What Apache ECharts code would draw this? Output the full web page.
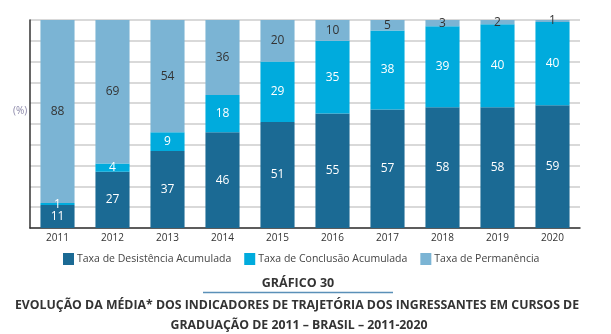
<!DOCTYPE html>
<html><head><meta charset="utf-8">
<script src="https://cdn.jsdelivr.net/npm/echarts@6/dist/echarts.min.js"></script>
<style>html,body{margin:0;padding:0;background:#fff}#c{width:611px;height:334px}</style>
</head><body><div id="c"></div>
<script>
const years = ['2011','2012','2013','2014','2015','2016','2017','2018','2019','2020'];
const desistencia = [11,27,37,46,51,55,57,58,58,59];
const conclusao = [1,4,9,18,29,35,38,39,40,40];
const permanencia = [88,69,54,36,20,10,5,3,2,1];
const seriesNames = ['Taxa de Desistência Acumulada','Taxa de Conclusão Acumulada','Taxa de Permanência'];
const colors = ['#1b6a94','#00abdd','#7bb4d4'];
const labelColors = ['#ffffff','#ffffff','#333333'];
const font = 'Open Sans';

const chart = echarts.init(document.getElementById('c'));
const datasets = [desistencia, conclusao, permanencia];
chart.setOption({
  animation:false,
  textStyle:{fontFamily:font},
  grid:{left:30,right:31,top:20,bottom:106},
  legend:{
    data:seriesNames, bottom:64, left:58, itemWidth:11, itemHeight:12, itemGap:13,
    icon:'rect', textStyle:{fontSize:10.5,color:'#444',fontFamily:font,padding:[0,0,0,-2]}
  },
  xAxis:{
    type:'category', data:years,
    axisLine:{lineStyle:{color:'#333',width:1.5}},
    axisTick:{show:false},
    axisLabel:{color:'#333',fontSize:10,margin:5,fontFamily:font}
  },
  yAxis:{
    type:'value', min:0, max:100, interval:10,
    axisLine:{show:true,lineStyle:{color:'#333',width:1.5}},
    axisTick:{show:false},
    axisLabel:{show:false},
    splitLine:{lineStyle:{color:'#cccccc',width:1.5}}
  },
  series: datasets.map((d,i)=>({
    name:seriesNames[i], type:'bar', stack:'t', data:d, barWidth:'62%',
    itemStyle:{color:colors[i]},
    label:{show:true,position:'inside',color:labelColors[i],fontSize:12,fontFamily:font}
  })),
  graphic:[
    {type:'text',left:13,top:106,style:{text:'(%)',fill:'#8a86a8',fontSize:10,fontFamily:font}},
    {type:'text',x:298,y:283,style:{text:'GRÁFICO 30',fill:'#333',fontSize:12.5,fontWeight:'bold',fontFamily:font,textAlign:'center',textVerticalAlign:'middle'}},
    {type:'line',shape:{x1:203,y1:292.5,x2:393,y2:292.5},style:{stroke:'#5a90b8',lineWidth:1.5}},
    {type:'text',x:297,y:305,style:{text:'EVOLUÇÃO DA MÉDIA* DOS INDICADORES DE TRAJETÓRIA DOS INGRESSANTES EM CURSOS DE',fill:'#333',fontSize:12.3,fontWeight:'bold',fontFamily:font,textAlign:'center',textVerticalAlign:'middle'}},
    {type:'text',x:299,y:325,style:{text:'GRADUAÇÃO DE 2011 – BRASIL – 2011-2020',fill:'#333',fontSize:12.3,fontWeight:'bold',fontFamily:font,textAlign:'center',textVerticalAlign:'middle'}}
  ]
});
</script></body></html>
